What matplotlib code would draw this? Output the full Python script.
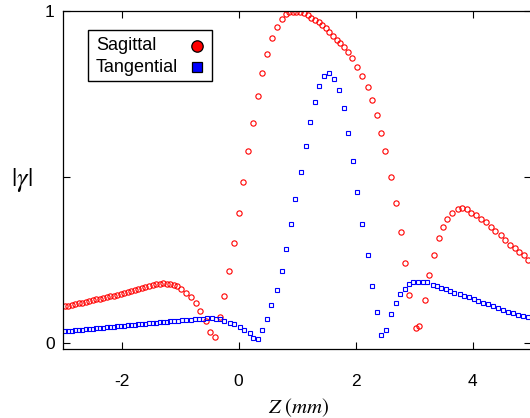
import matplotlib
matplotlib.use("Agg")
import matplotlib.pyplot as plt
from matplotlib.patches import Rectangle

plt.rcParams['font.family'] = ['Liberation Sans', 'DejaVu Sans']
plt.rcParams['mathtext.fontset'] = 'stix'

# Sagittal |gamma| vs Z (mm)
z_sag = [-2.97, -2.91, -2.85, -2.79, -2.73, -2.67, -2.61, -2.55, -2.49, -2.43,
         -2.37, -2.31, -2.25, -2.19, -2.13, -2.07, -2.01, -1.95, -1.89, -1.83,
         -1.77, -1.71, -1.65, -1.59, -1.53, -1.47, -1.41, -1.35, -1.29, -1.23,
         -1.17, -1.11, -1.05, -0.98, -0.90, -0.81, -0.73, -0.65, -0.56, -0.48,
         -0.41, -0.32, -0.25, -0.17, -0.08, 0.00, 0.08, 0.16, 0.24, 0.33,
         0.41, 0.49, 0.57, 0.66, 0.74, 0.82, 0.87, 0.93, 0.98, 1.05,
         1.12, 1.18, 1.24, 1.31, 1.37, 1.43, 1.49, 1.55, 1.62, 1.68,
         1.74, 1.81, 1.87, 1.94, 2.02, 2.11, 2.21, 2.29, 2.37, 2.44,
         2.51, 2.61, 2.70, 2.77, 2.85, 2.92, 3.03, 3.09, 3.18, 3.25,
         3.35, 3.42, 3.49, 3.57, 3.65, 3.75, 3.82, 3.90, 3.98, 4.06,
         4.15, 4.23, 4.32, 4.39, 4.48, 4.56, 4.64, 4.72, 4.80, 4.88, 4.95]
g_sag = [0.111, 0.113, 0.116, 0.118, 0.120, 0.122, 0.124, 0.127, 0.129, 0.132,
         0.134, 0.136, 0.139, 0.141, 0.143, 0.146, 0.148, 0.151, 0.154, 0.157,
         0.160, 0.163, 0.166, 0.169, 0.172, 0.175, 0.178, 0.179, 0.180, 0.179,
         0.177, 0.175, 0.172, 0.163, 0.152, 0.139, 0.121, 0.097, 0.066, 0.034,
         0.019, 0.079, 0.142, 0.217, 0.301, 0.392, 0.485, 0.578, 0.664, 0.743,
         0.814, 0.871, 0.918, 0.952, 0.975, 0.990, 0.996, 0.998, 0.998, 0.996,
         0.993, 0.988, 0.980, 0.973, 0.966, 0.958, 0.948, 0.938, 0.926, 0.914,
         0.904, 0.892, 0.877, 0.857, 0.832, 0.804, 0.770, 0.731, 0.687, 0.633,
         0.579, 0.499, 0.422, 0.334, 0.241, 0.144, 0.046, 0.050, 0.130, 0.205,
         0.264, 0.315, 0.350, 0.374, 0.392, 0.403, 0.406, 0.403, 0.392, 0.385,
         0.374, 0.364, 0.350, 0.337, 0.324, 0.310, 0.296, 0.285, 0.274, 0.264, 0.250]

# Tangential |gamma| vs Z (mm)
z_tan = [-2.97, -2.91, -2.85, -2.79, -2.73, -2.67, -2.61, -2.55, -2.49, -2.43,
         -2.37, -2.31, -2.25, -2.19, -2.13, -2.07, -2.01, -1.95, -1.89, -1.83,
         -1.77, -1.71, -1.65, -1.59, -1.53, -1.47, -1.41, -1.35, -1.29, -1.23,
         -1.17, -1.11, -1.04, -0.97, -0.89, -0.82, -0.75, -0.67, -0.60, -0.53,
         -0.46, -0.39, -0.32, -0.24, -0.15, -0.07, 0.02, 0.10, 0.19, 0.24,
         0.33, 0.41, 0.49, 0.56, 0.66, 0.74, 0.82, 0.89, 0.97, 1.06,
         1.15, 1.22, 1.30, 1.38, 1.47, 1.55, 1.63, 1.71, 1.80, 1.88,
         1.95, 2.03, 2.11, 2.21, 2.29, 2.36, 2.44, 2.52, 2.61, 2.69,
         2.76, 2.84, 2.92, 2.99, 3.07, 3.15, 3.23, 3.32, 3.39, 3.46,
         3.54, 3.62, 3.69, 3.78, 3.86, 3.94, 4.02, 4.10, 4.18, 4.26,
         4.35, 4.43, 4.52, 4.60, 4.69, 4.77, 4.86, 4.95]
g_tan = [0.035, 0.036, 0.037, 0.038, 0.039, 0.040, 0.041, 0.042, 0.043, 0.044,
         0.045, 0.046, 0.047, 0.048, 0.049, 0.050, 0.051, 0.052, 0.053, 0.054,
         0.055, 0.056, 0.057, 0.058, 0.059, 0.060, 0.061, 0.062, 0.063, 0.064,
         0.065, 0.066, 0.067, 0.068, 0.069, 0.070, 0.071, 0.072, 0.073, 0.074,
         0.074, 0.073, 0.071, 0.066, 0.061, 0.056, 0.049, 0.039, 0.029, 0.014,
         0.013, 0.039, 0.072, 0.114, 0.160, 0.218, 0.284, 0.358, 0.435, 0.515,
         0.593, 0.666, 0.727, 0.775, 0.804, 0.812, 0.794, 0.761, 0.707, 0.633,
         0.549, 0.455, 0.358, 0.264, 0.173, 0.093, 0.023, 0.040, 0.086, 0.120,
         0.147, 0.164, 0.179, 0.185, 0.185, 0.185, 0.184, 0.175, 0.172, 0.167,
         0.162, 0.157, 0.152, 0.147, 0.142, 0.138, 0.133, 0.127, 0.121, 0.117,
         0.111, 0.105, 0.099, 0.094, 0.089, 0.084, 0.081, 0.077]

x_ticks = [-2, 0, 2, 4]
x_ticklabels = ['-2', '0', '2', '4']
y_ticks = [0, 0.5, 1]
y_ticklabels = ['0', '', '1']
series_labels = ['Sagittal', 'Tangential']
series_colors = ['#ff0000', '#0000ff']
series_markers = ['o', 's']

W, H = 530, 418
AX_L, AX_R, AX_T, AX_B = 63, 531, 11, 349

fig = plt.figure(figsize=(W/100, H/100), dpi=100)
ax = fig.add_axes([AX_L/W, (H-AX_B)/H, (AX_R-AX_L)/W, (AX_B-AX_T)/H])

ax.plot(z_sag, g_sag, linestyle='none', marker=series_markers[0], markersize=3.8,
        markerfacecolor='none', markeredgecolor=series_colors[0], markeredgewidth=0.8)
ax.plot(z_tan, g_tan, linestyle='none', marker=series_markers[1], markersize=3.5,
        markerfacecolor='none', markeredgecolor=series_colors[1], markeredgewidth=0.8)

ax.set_xlim(-3, 5)
ax.set_ylim(-0.018, 1.0)
ax.set_xticks(x_ticks)
ax.set_xticklabels(x_ticklabels)
ax.set_yticks(y_ticks)
ax.set_yticklabels(y_ticklabels)
ax.tick_params(direction='in', top=True, right=True, length=4.8, width=0.8,
               labelsize=12.5, colors='black')
ax.tick_params(axis='x', pad=18)
ax.tick_params(axis='y', pad=6)
for s in ax.spines.values():
    s.set_linewidth(0.9)

ax.set_xlabel(r'$Z\ (mm)$', fontsize=15, va='center')
ax.xaxis.set_label_coords(0.505, (AX_B - 408) / (AX_B - AX_T))
ax.set_ylabel(r'$|\gamma|$', fontsize=19, rotation=0, va='center', ha='center')
ax.yaxis.set_label_coords((22 - AX_L) / (AX_R - AX_L), 0.5)

# legend drawn by hand (left-aligned text, marker on the right)
def axx(px):
    return (px - AX_L) / (AX_R - AX_L)

def axy(py):
    return (AX_B - py) / (AX_B - AX_T)

ax.add_patch(Rectangle((axx(88), axy(81)), axx(212) - axx(88), axy(30) - axy(81),
                       transform=ax.transAxes, facecolor='white',
                       edgecolor='black', linewidth=1.0, zorder=5, clip_on=False))
row_y = [46, 67]
msizes = [8.2, 7.6]
for lab, col, mk, ry, ms in zip(series_labels, series_colors, series_markers, row_y, msizes):
    ax.text(axx(96), axy(ry), lab, transform=ax.transAxes, fontsize=13,
            ha='left', va='center', zorder=6)
    ax.plot([axx(196.5)], [axy(ry)], transform=ax.transAxes, linestyle='none',
            marker=mk, markersize=ms, markerfacecolor=col,
            markeredgecolor='black', markeredgewidth=0.9, zorder=6, clip_on=False)

fig.savefig('out.png', dpi=100)
